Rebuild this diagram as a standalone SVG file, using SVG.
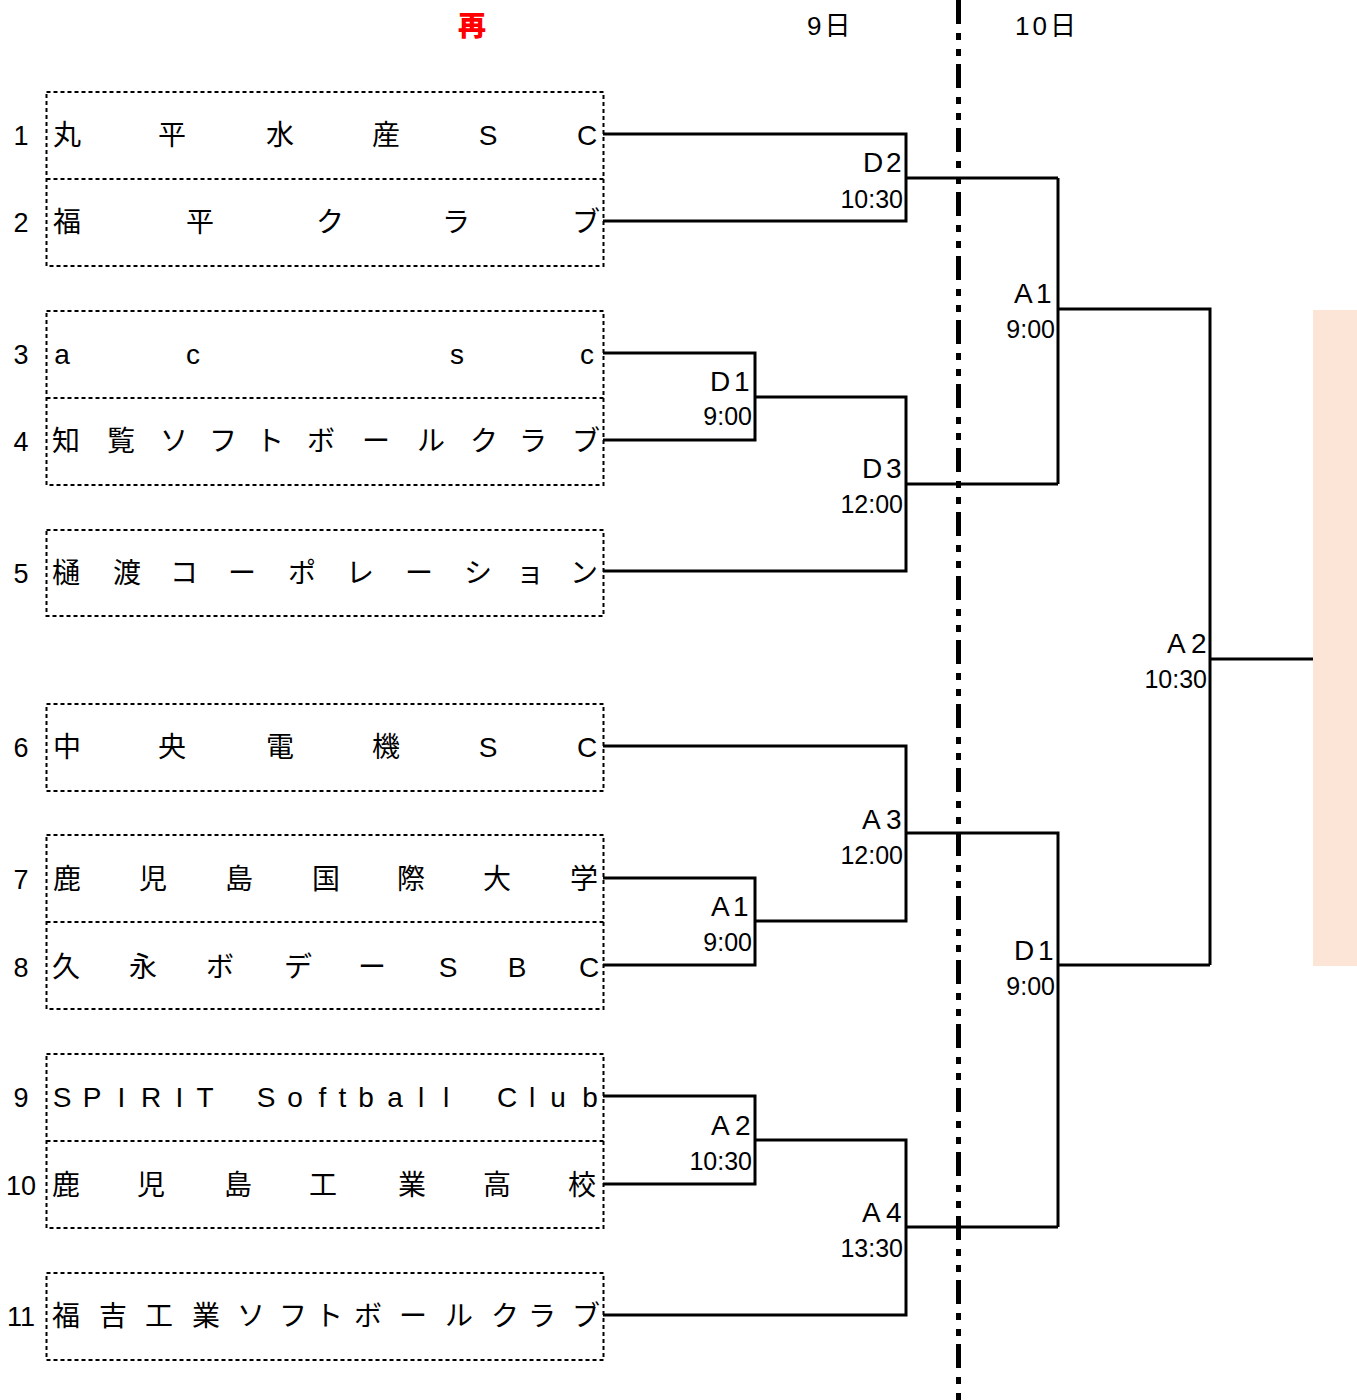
<svg xmlns="http://www.w3.org/2000/svg" width="1357" height="1400" viewBox="0 0 1357 1400">
<style>
.box{fill:none;stroke:#000;stroke-width:2;stroke-dasharray:4 3}
.div{stroke:#000;stroke-width:2;stroke-dasharray:4 3}
.name{font-family:"Liberation Sans","Noto Sans CJK JP",sans-serif;font-size:28px;fill:#000;text-anchor:middle}
.num{font-family:"Liberation Sans",sans-serif;font-size:27px;fill:#000;text-anchor:middle}
.code{font-family:"Liberation Sans",sans-serif;font-size:28px;fill:#000}
.time{font-family:"Liberation Sans",sans-serif;font-size:25px;fill:#000;text-anchor:end}
.hdr{font-family:"Liberation Sans","Noto Sans CJK JP",sans-serif;font-size:26px;fill:#000;letter-spacing:3px}
.ln{fill:none;stroke:#000;stroke-width:3}
</style>
<rect x="0" y="0" width="1357" height="1400" fill="#fff"/>
<rect id="final" x="1313" y="310" width="44" height="656" fill="#FCE4D6"/>
<text x="472" y="36" text-anchor="middle" font-family="'Noto Sans CJK JP',sans-serif" font-size="28" font-weight="900" fill="#FF0000">再</text>
<text class="hdr" x="807" y="35">9日</text>
<text class="hdr" x="1015" y="35">10日</text>

<g id="connectors" class="ln">
<path d="M603 134H906V221H603"/>
<path d="M906 178H1058"/>
<path d="M1058 178V484"/>
<path d="M906 484H1058"/>
<path d="M1058 309H1210V965"/>
<path d="M1210 659H1313"/>
<path d="M603 353H755V440H603"/>
<path d="M755 397H906V571H603"/>
<path d="M603 746H906V921H755"/>
<path d="M906 833H1058V1227"/>
<path d="M603 878H755V965H603"/>
<path d="M1058 965H1210"/>
<path d="M603 1096H755V1184H603"/>
<path d="M755 1140H906V1315H603"/>
<path d="M906 1227H1058"/>
</g>
<line id="dayline" x1="958.5" y1="0" x2="958.5" y2="1400" stroke="#000" stroke-width="5" stroke-dasharray="24 9 7 9 7 8"/>

<g id="box1">
<rect class="box" x="46.5" y="92" width="557" height="174"/>
<line class="div" x1="46.5" y1="179" x2="603.5" y2="179"/>
<g id="team1"><text class="num" x="21" y="145">1</text><text class="name" x="67 172 280 386 488 587" y="145">丸平水産SC</text></g>
<g id="team2"><text class="num" x="21" y="232">2</text><text class="name" x="67 200 330 456 586" y="232">福平クラブ</text></g>
</g>
<g id="box2">
<rect class="box" x="46.5" y="311" width="557" height="174"/>
<line class="div" x1="46.5" y1="398" x2="603.5" y2="398"/>
<g id="team3"><text class="num" x="21" y="364">3</text><text class="name" x="62 193 457 587" y="364">acsc</text></g>
<g id="team4"><text class="num" x="21" y="451">4</text><text class="name" x="66 121 174 223 270 321 376 431 484 533 586" y="451">知覧ソフトボールクラブ</text></g>
</g>
<g id="box3">
<rect class="box" x="46.5" y="530" width="557" height="86"/>
<g id="team5"><text class="num" x="21" y="583">5</text><text class="name" x="66 127 184 242 302 360 419 478 530 584" y="583">樋渡コーポレーション</text></g>
</g>
<g id="box4">
<rect class="box" x="46.5" y="704" width="557" height="87"/>
<g id="team6"><text class="num" x="21" y="757">6</text><text class="name" x="67 172 280 386 488 587" y="757">中央電機SC</text></g>
</g>
<g id="box5">
<rect class="box" x="46.5" y="835" width="557" height="174"/>
<line class="div" x1="46.5" y1="922" x2="603.5" y2="922"/>
<g id="team7"><text class="num" x="21" y="889">7</text><text class="name" x="67 153 239 326 411 497 584" y="889">鹿児島国際大学</text></g>
<g id="team8"><text class="num" x="21" y="977">8</text><text class="name" x="66 143 220 298 372 448 517 589" y="977">久永ボデーSBC</text></g>
</g>
<g id="box6">
<rect class="box" x="46.5" y="1054" width="557" height="174"/>
<line class="div" x1="46.5" y1="1141" x2="603.5" y2="1141"/>
<g id="team9"><text class="num" x="21" y="1107">9</text><text class="name" x="62 92 121.5 151 179.5 205 266 295 322.5 342.5 366 395 421 446 507 532 558 590" y="1107">SPIRITSoftballClub</text></g>
<g id="team10"><text class="num" x="21" y="1195">10</text><text class="name" x="66 151 238 323 412 497 582" y="1195">鹿児島工業高校</text></g>
</g>
<g id="box7">
<rect class="box" x="46.5" y="1273" width="557" height="87"/>
<g id="team11"><text class="num" x="21" y="1326">11</text><text class="name" x="66 113 159 206 251 293 329 368 413 459 505 542 586" y="1326">福吉工業ソフトボールクラブ</text></g>
</g>

<g id="matchD2"><text class="code" x="863 886" y="172">D2</text><text class="time" x="903" y="208">10:30</text></g>
<g id="matchD1a"><text class="code" x="710 734" y="391">D1</text><text class="time" x="752" y="425">9:00</text></g>
<g id="matchD3"><text class="code" x="862 886" y="478">D3</text><text class="time" x="903" y="513">12:00</text></g>
<g id="matchA1a"><text class="code" x="1014 1036" y="303">A1</text><text class="time" x="1055" y="338">9:00</text></g>
<g id="matchA2a"><text class="code" x="1167 1191" y="653">A2</text><text class="time" x="1207" y="688">10:30</text></g>
<g id="matchA3"><text class="code" x="862 886" y="829">A3</text><text class="time" x="903" y="864">12:00</text></g>
<g id="matchA1b"><text class="code" x="711 733" y="916">A1</text><text class="time" x="752" y="951">9:00</text></g>
<g id="matchD1b"><text class="code" x="1014 1038" y="960">D1</text><text class="time" x="1055" y="995">9:00</text></g>
<g id="matchA2b"><text class="code" x="711 735" y="1135">A2</text><text class="time" x="752" y="1170">10:30</text></g>
<g id="matchA4"><text class="code" x="862 886" y="1222">A4</text><text class="time" x="903" y="1257">13:30</text></g>
</svg>
